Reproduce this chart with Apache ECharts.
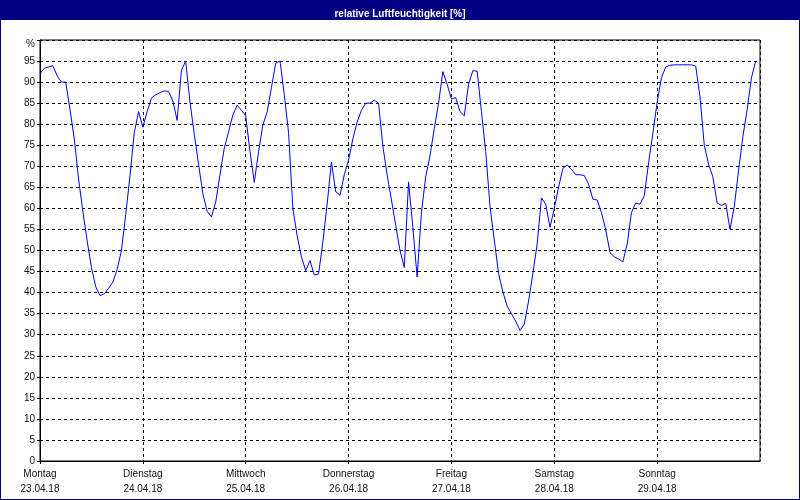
<!DOCTYPE html>
<html>
<head>
<meta charset="utf-8">
<script src="https://cdn.jsdelivr.net/npm/echarts@6/dist/echarts.min.js"></script>
<style>html,body{margin:0;padding:0;background:#fff}#c{width:800px;height:500px}</style>
</head>
<body>
<div id="c"></div>
<script>
const titleText = 'relative Luftfeuchtigkeit [%]';
const dayNames = ['Montag', 'Dienstag', 'Mittwoch', 'Donnerstag', 'Freitag', 'Samstag', 'Sonntag'];
const dayDates = ['23.04.18', '24.04.18', '25.04.18', '26.04.18', '27.04.18', '28.04.18', '29.04.18'];
const yTicks = [0, 5, 10, 15, 20, 25, 30, 35, 40, 45, 50, 55, 60, 65, 70, 75, 80, 85, 90, 95];
const yUnit = '%';
// hourly relative humidity, hour 0 = Montag 00:00
const humMon = [92, 93.3, 93.6, 93.9, 91.5, 90, 90, 83.5, 76.5, 67, 59.3, 52.3, 46, 41.4, 39.3, 39.7, 41, 42.5, 45.5, 50, 58.5, 67.8, 78, 83];
const humTue = [79.3, 83, 86.2, 87, 87.5, 87.9, 87.8, 85.5, 80.9, 92.8, 95, 85.2, 77.6, 70.5, 63.5, 59.3, 58, 61.5, 68, 74.3, 78.2, 82.2, 84.5, 83.3];
const humWed = [82, 73.5, 66.2, 73.5, 79.8, 82.9, 88.7, 94.5, 95, 87, 78, 60, 53.5, 48.5, 45.2, 47.6, 44.2, 44.4, 52, 61, 71, 64, 63.1, 68];
const humThu = [71.5, 76.5, 80.5, 83.3, 85, 85, 85.7, 85, 74.8, 68, 62, 56, 50, 46, 66.3, 55.5, 43.7, 59, 67.5, 72.5, 79, 85, 92.5, 89.5];
const humFri = [86, 86.3, 83, 82, 89.5, 92.7, 92.6, 83, 73.5, 60.5, 52.5, 44.5, 40.2, 36.8, 35, 33.2, 31, 32.5, 38, 44.5, 51.5, 62.5, 61, 55.5];
const humSat = [60, 65, 69.5, 70.3, 69.3, 68, 68, 67.8, 65.8, 62.2, 62, 59, 55, 49.5, 48.5, 48, 47.3, 51.5, 59, 61.3, 61, 63, 70.8, 77.8];
const humSun = [85.2, 91, 93.6, 94, 94.1, 94.1, 94.1, 94.1, 94.1, 93.8, 86.5, 75, 70.5, 67.5, 61.3, 60.7, 61.2, 55, 60.5, 69, 77, 83.5, 91, 95];

const humidity = [].concat(humMon, humTue, humWed, humThu, humFri, humSat, humSun);
const seriesData = humidity.map((v, i) => [i, v]);

const navy = '#000080';
const font = 'Liberation Sans, Arial, sans-serif';

const chart = echarts.init(document.getElementById('c'), null, {renderer: 'canvas'});
chart.setOption({
  animation: false,
  backgroundColor: '#fff',
  graphic: [
    {type: 'rect', z: 0, shape: {x: 0, y: 0, width: 800, height: 20}, style: {fill: navy}},
    {type: 'rect', z: 0, shape: {x: 0.5, y: 0.5, width: 799, height: 499}, style: {fill: null, stroke: navy, lineWidth: 1}}
  ],
  title: {
    text: titleText,
    left: 'center',
    top: 4,
    textStyle: {color: '#fff', fontWeight: 'bold', fontSize: 10, fontFamily: font}
  },
  grid: {
    left: 40, right: 40, top: 40, bottom: 39,
    show: true, borderColor: '#000', borderWidth: 1, backgroundColor: 'transparent'
  },
  xAxis: {
    type: 'value',
    min: 0, max: 168, interval: 24,
    axisLine: {show: true, lineStyle: {color: '#000', width: 1}},
    axisTick: {show: true, length: 3, lineStyle: {color: '#000', type: [3, 3]}},
    splitLine: {show: true, lineStyle: {color: '#000', width: 1, type: [3, 3]}},
    axisLabel: {
      show: true,
      margin: 6,
      color: '#111',
      fontSize: 10,
      fontFamily: font,
      lineHeight: 15,
      showMaxLabel: false,
      formatter: function (v) {
        const d = Math.round(v / 24);
        if (d >= dayNames.length) return '';
        return dayNames[d] + '\n' + dayDates[d];
      }
    }
  },
  yAxis: {
    type: 'value',
    min: 0, max: 100, interval: 5,
    axisLine: {show: true, lineStyle: {color: '#000', width: 1}},
    axisTick: {show: true, length: 3, lineStyle: {color: '#000'}},
    splitLine: {show: true, lineStyle: {color: '#000', width: 1, type: [3, 3]}},
    axisLabel: {
      margin: 5,
      color: '#111',
      fontSize: 10,
      fontFamily: font,
      formatter: function (v) {
        return yTicks.indexOf(v) >= 0 ? String(v) : '{u|' + yUnit + '}';
      },
      rich: {
        u: {color: '#111', fontSize: 10, fontFamily: font, padding: [9, 0, 0, 0]}
      }
    }
  },
  series: [{
    type: 'line',
    data: seriesData,
    showSymbol: false,
    symbol: 'none',
    lineStyle: {color: '#0000ff', width: 1},
    z: 5
  }]
});
</script>
</body>
</html>
